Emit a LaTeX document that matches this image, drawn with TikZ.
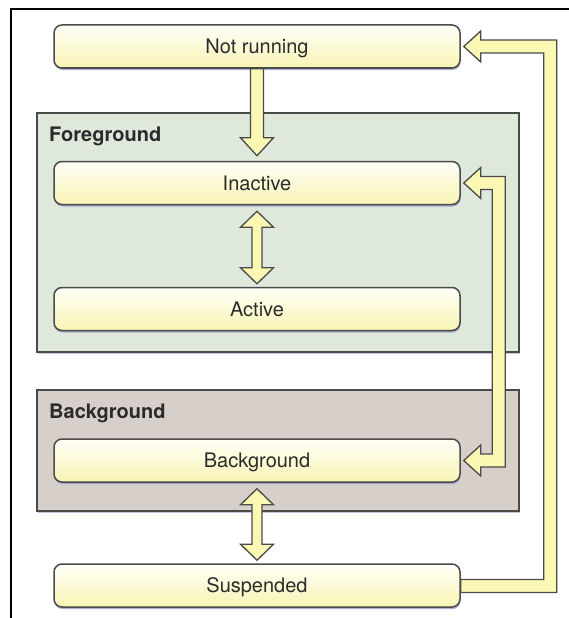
\documentclass[tikz,border=0pt]{standalone}
\usepackage{fontspec}
\setmainfont{TeX Gyre Heros}
\usetikzlibrary{calc,shadows}

\definecolor{edgegray}{HTML}{4A4A4A}
\definecolor{textgray}{HTML}{2B2B2B}
\definecolor{fggreen}{HTML}{DEE8DB}
\definecolor{bgtaupe}{HTML}{D7CFC9}
\definecolor{boxtop}{HTML}{FFFFF8}
\definecolor{boxbottom}{HTML}{F8F4B4}
\definecolor{arrowfill}{HTML}{FAF8B2}
\definecolor{shadowblue}{HTML}{8E8EC4}

\begin{document}
\begin{tikzpicture}[x=1pt,y=-1pt,
	font=\fontsize{20}{24}\selectfont,
	text=textgray,
	state/.style={
		draw=edgegray, % rounded yellow boxes
		line width=1.5pt,
		rounded corners=8pt,
		top color=boxtop,
		bottom color=boxbottom,
		minimum width=406pt,
		minimum height=43pt,
		text height=14pt,
		text depth=0pt,
		drop shadow={shadow xshift=0.5pt,shadow yshift=-2pt,fill=shadowblue,opacity=.7},
	},
	group/.style={
		draw=edgegray,
		line width=1.5pt,
		minimum width=482pt,
		drop shadow={shadow xshift=1pt,shadow yshift=-2pt,fill=shadowblue,opacity=.5},
	},
	grouplabel/.style={anchor=west,inner sep=0pt,font=\fontsize{20}{24}\selectfont\bfseries},
	blockarrow/.style={draw=edgegray,fill=arrowfill,line width=1.3pt,line join=miter},
]
	\useasboundingbox (0,0) rectangle (569,618);
	\draw[line width=1.5pt] (11,618) |- (569,9);

	% app states and the two contexts
	\node[group,fill=fggreen,minimum height=239pt] (fg) at (278,232.5) {};
	\node[group,fill=bgtaupe,minimum height=121pt] (bg) at (278,450.5) {};
	\node[grouplabel] (fglabel) at (49,136.5) {Foreground};
	\node[grouplabel] (bglabel) at (49,413) {Background};

	\node[state] (nr)  at (257,46.5)  {Not running};
	\node[state] (ina) at (257,183)   {Inactive};
	\node[state] (act) at (257,309)   {Active};
	\node[state] (bgs) at (257,460.5) {Background};
	\node[state] (sus) at (257,585.5) {Suspended};

	% launch
	\path (nr.south) coordinate (a) ($(ina.north)+(0,-5)$) coordinate (b);
	\draw[blockarrow] ($(a)+(-6.5,0)$) -- ($(b)+(-6.5,-18)$) -- ++(-10,0) -- (b)
		-- ++(16.5,-18) -- ++(-10,0) -- ($(a)+(6.5,0)$) -- cycle;

	% two-way transitions
	\foreach \i/\j in {ina/act,bgs/sus}{
		\path ($(\i.south)+(0,6)$) coordinate (t) ($(\j.north)+(0,-3)$) coordinate (b);
		\draw[blockarrow] (t) -- ++(16.5,16) -- ++(-11.5,0) -- ($(b)+(5,-16)$)
			-- ++(11.5,0) -- (b) -- ++(-16.5,-16) -- ++(11.5,0)
			-- ($(t)+(-5,16)$) -- ++(-11.5,0) -- cycle;
	}

	% inactive <-> background
	\path ($(ina.east)+(3,0)$) coordinate (ia) ($(bgs.east)+(3,0)$) coordinate (ib);
	\draw[blockarrow] (ia) -- ++(17,-15.5) -- ++(0,9) -- ($(ia)+(41.5,-6.5)$)
		-- ($(ib)+(41.5,6.5)$) -- ($(ib)+(17,6.5)$) -- ++(0,9) -- (ib)
		-- ++(17,-15.5) -- ++(0,9) -- ($(ib)+(28.5,-6.5)$)
		-- ($(ia)+(28.5,6.5)$) -- ($(ia)+(17,6.5)$) -- ++(0,9) -- cycle;

	% suspended -> not running
	\path ($(nr.east)+(3,0)$) coordinate (nt);
	\draw[blockarrow] (nt) -- ++(17,-15.5) -- ++(0,9) -- ($(nt)+(93,-6.5)$)
		-- ($(sus.east)+(96,7)$) -- ($(sus.east)+(0,7)$) -- ($(sus.east)+(0,-6)$)
		-- ($(sus.east)+(83,-6)$) -- ($(nt)+(80,6.5)$) -- ($(nt)+(17,6.5)$)
		-- ++(0,9) -- cycle;
\end{tikzpicture}
\end{document}
